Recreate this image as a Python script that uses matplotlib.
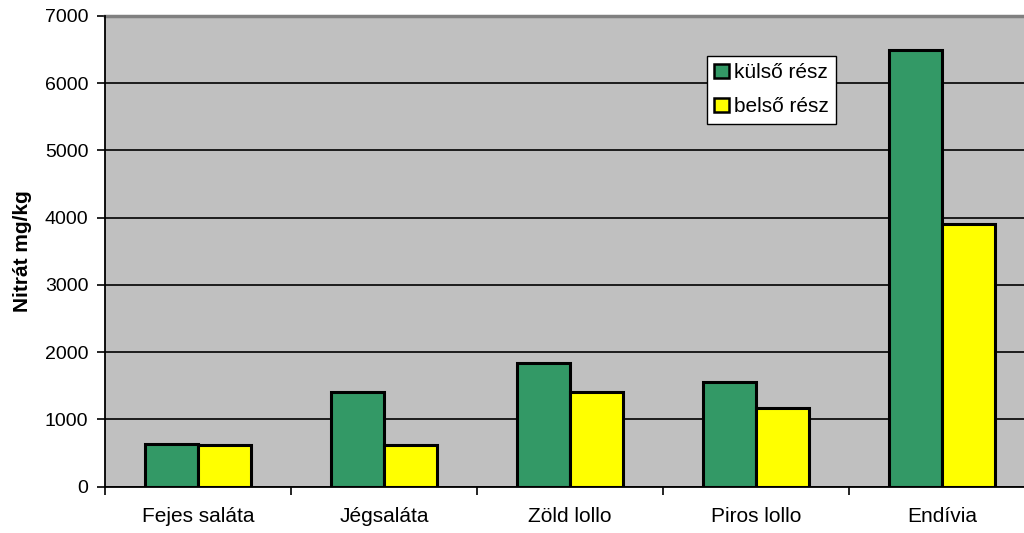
import matplotlib
matplotlib.use("Agg")
import matplotlib.pyplot as plt
import numpy as np

plt.rcParams['font.family'] = ['Liberation Sans', 'DejaVu Sans']

categories = ["Fejes saláta", "Jégsaláta", "Zöld lollo", "Piros lollo", "Endívia"]
kulso = [630, 1400, 1830, 1560, 6500]
belso = [620, 620, 1400, 1170, 3900]
series_names = ["külső rész", "belső rész"]
yticks = [0, 1000, 2000, 3000, 4000, 5000, 6000, 7000]

green = "#339966"
yellow = "#FFFF00"

fig = plt.figure(figsize=(10.24, 5.33), dpi=100)
ax = fig.add_axes([105/1024, 1 - 486.5/533, 930/1024, (486.5 - 16)/533])
ax.set_facecolor("#C0C0C0")

x = np.arange(len(categories))
w = 1 / 3.5
ax.bar(x - w/2, kulso, width=w, color=green, edgecolor="black", linewidth=2.2,
       label=series_names[0], zorder=3)
ax.bar(x + w/2, belso, width=w, color=yellow, edgecolor="black", linewidth=2.2,
       label=series_names[1], zorder=3)

ax.set_xlim(-0.5, len(categories) - 0.5)
ax.set_ylim(0, 7000)
ax.set_yticks(yticks)
ax.set_yticklabels([str(t) for t in yticks], fontsize=14)
ax.set_xticks(x)
ax.set_xticklabels(categories, fontsize=15)
ax.set_xticks(np.arange(-0.5, len(categories), 1), minor=True)
ax.tick_params(axis='x', which='major', length=0, pad=15)
ax.tick_params(axis='x', which='minor', length=6, width=1.2, color="black")
ax.tick_params(axis='y', length=6, width=1.2, pad=6)

ax.yaxis.grid(True, color="black", linewidth=1.2, zorder=1)
ax.set_axisbelow(True)

for side in ("left", "bottom"):
    ax.spines[side].set_color("black")
    ax.spines[side].set_linewidth(1.3)
    ax.spines[side].set_zorder(4)
ax.spines["top"].set_color("#808080")
ax.spines["top"].set_linewidth(2.5)
ax.spines["right"].set_visible(False)

ax.set_ylabel("Nitrát mg/kg", fontsize=15, fontweight="bold", labelpad=9)

leg = ax.legend(loc="upper left", bbox_to_anchor=((707 - 105)/930, (486.5 - 56)/470.5),
                fontsize=15, frameon=True, fancybox=False, edgecolor="black",
                framealpha=1, handlelength=0.7, handleheight=0.7,
                handletextpad=0.25, borderpad=0.35, labelspacing=0.72,
                borderaxespad=0)
leg.get_frame().set_linewidth(1.0)
for h in leg.legend_handles:
    h.set_linewidth(1.8)

fig.savefig("out.png", dpi=100)
